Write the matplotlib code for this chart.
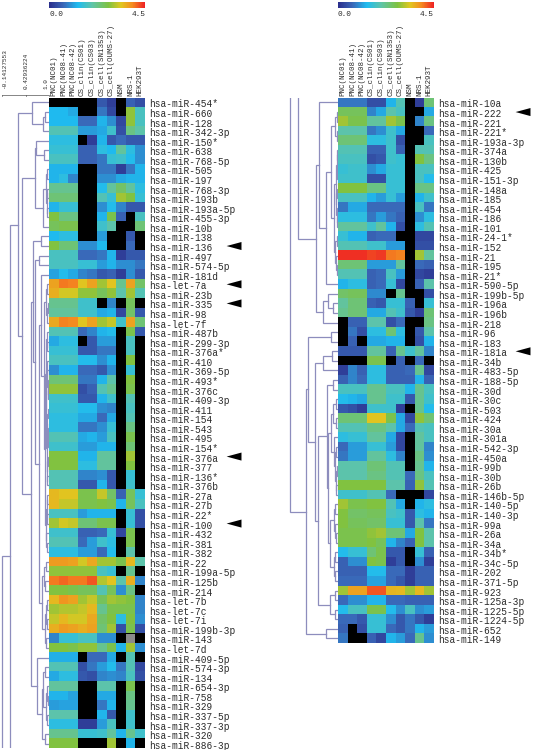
import numpy as np
import matplotlib
matplotlib.use('Agg')
import matplotlib.pyplot as plt
from matplotlib.colors import LinearSegmentedColormap
from matplotlib.cm import ScalarMappable
from matplotlib.colors import Normalize
from matplotlib.patches import Polygon, Rectangle
from matplotlib.transforms import ScaledTranslation

W, H = 536, 750
n = np.nan

columns = ['PNC(NC01)', 'PNC(NC08-41)', 'PNC(NC08-42)', 'CS_clin(CS01)', 'CS_clin(CS03)',
           'CS_cell(SN1353)', 'CS_cell(OUMS-27)', 'NSM', 'NRS-1', 'HEK293T']

left_names = ['454*', '660', '128', '342-3p', '150*', '638', '768-5p', '505', '197', '768-3p',
              '193b', '193a-5p', '455-3p', '10b', '138', '136', '497', '574-5p', '181d', 'let-7a',
              '23b', '335', '98', 'let-7f', '487b', '299-3p', '376a*', '410', '369-5p', '493*',
              '376c', '409-3p', '411', '154', '543', '495', '154*', '376a', '377', '136*',
              '376b', '27a', '27b', '22*', '100', '432', '381', '382', '22', '199a-5p',
              '125b', '214', 'let-7b', 'let-7c', 'let-7i', '199b-3p', '143', 'let-7d', '409-5p', '574-3p',
              '134', '654-3p', '758', '329', '337-5p', '337-3p', '320', '886-3p']

right_names = ['10a', '222', '221', '221*', '193a-3p', '374a', '130b', '425', '151-3p', '148a',
               '185', '454', '186', '101', '24-1*', '152', '21', '195', '21*', '590-5p',
               '199b-5p', '196a', '196b', '218', '96', '183', '181a', '34b', '483-5p', '188-5p',
               '30d', '30c', '503', '424', '30a', '301a', '542-3p', '450a', '99b', '30b',
               '26b', '146b-5p', '140-5p', '140-3p', '99a', '26a', '34a', '34b*', '34c-5p', '202',
               '371-5p', '923', '125a-3p', '1225-5p', '1224-5p', '652', '149']

left_values = [
    [n, n, n, n, n, .5, .2, n, .6, .4],
    [1.35, 1.35, 1.2, n, n, .8, .3, n, 2.9, 1.8],
    [1.35, 1.35, 1.35, .7, .7, 1.3, 1.0, .3, 2.9, 1.8],
    [1.9, 1.9, 1.9, 1.1, 1.1, 1.2, 1.7, .4, 2.3, 2.0],
    [1.5, 1.5, 1.5, n, .2, 1.3, .5, .7, .5, .5],
    [1.6, 1.6, 1.6, .6, .6, 1.5, 1.35, 2.1, 1.5, 1.0],
    [1.8, 1.8, 1.8, .6, .6, .8, 1.6, 1.7, 1.4, 1.0],
    [1.3, 1.3, 1.3, n, n, .8, .8, .2, .8, 1.3],
    [1.3, 1.5, .9, n, n, 1.0, 1.0, 1.2, 1.3, 1.3],
    [2.2, 2.2, 2.2, n, n, 1.4, 2.1, 2.5, 2.1, 1.5],
    [2.4, 2.4, 2.4, n, n, 1.9, 1.6, 3.0, 2.8, 1.6],
    [1.3, 1.6, 1.6, n, n, 1.0, 1.4, .9, .5, .5],
    [2.8, 2.3, 2.3, n, n, 1.3, 2.7, .6, n, 1.8],
    [2.6, 2.7, 2.7, n, n, 1.7, 2.0, n, n, 2.4],
    [1.35, 1.5, 1.5, n, n, 1.1, n, n, .5, n],
    [2.8, 2.4, 2.4, 1.0, 1.0, 1.35, n, n, .7, n],
    [1.8, 1.8, 1.8, .7, .7, .8, 1.3, .2, .5, .5],
    [1.8, 1.8, 1.8, 1.6, 1.6, 1.1, 1.3, 1.0, 1.0, .8],
    [1.15, 1.4, 1.2, .9, .8, .5, .6, .2, 1.0, .5],
    [3.7, 4.0, 3.95, 3.4, 3.7, 3.0, 3.4, 2.2, 3.7, 2.5],
    [3.6, 3.3, 3.3, 2.9, 2.9, 2.6, 2.9, 2.0, 3.0, 1.9],
    [2.2, 2.2, 2.2, 1.7, 1.7, n, .9, n, 2.6, n],
    [2.1, 2.1, 2.1, 1.7, 1.7, 1.2, 1.3, .3, 2.5, .5],
    [3.65, 3.95, 3.9, 3.4, 3.7, 3.0, 3.2, 1.7, 3.7, 2.4],
    [1.9, 1.9, 1.9, .7, .9, 1.3, 1.4, n, 2.7, .5],
    [1.2, 1.5, 1.5, n, .5, 1.1, 1.1, n, 1.8, n],
    [1.6, 1.6, 1.6, .5, .5, .8, .8, n, 1.8, n],
    [1.8, 1.8, 1.8, 1.4, 1.4, 1.0, 1.3, n, 2.8, n],
    [1.0, 1.3, 1.3, .7, .7, .5, 1.0, n, 1.6, n],
    [2.4, 2.4, 2.4, .8, .8, 1.3, 2.0, n, 2.8, n],
    [2.9, 2.9, 2.9, .4, .6, 1.9, 2.2, n, 2.7, n],
    [1.7, 1.7, 1.7, .5, .5, 1.3, 1.7, n, 1.9, n],
    [1.6, 1.6, 1.6, 1.4, 1.4, 1.0, .9, n, 1.8, n],
    [1.5, 1.5, 1.5, 1.2, 1.2, .7, 1.2, n, 1.9, n],
    [1.5, 1.5, 1.5, .8, .8, 1.0, 1.6, n, 2.3, n],
    [1.9, 1.9, 1.9, 1.2, 1.3, 1.1, 1.8, n, 2.7, n],
    [1.7, 1.7, 1.7, 1.1, 1.1, 1.3, 1.3, n, 2.4, n],
    [2.8, 2.8, 2.8, 1.3, 1.3, 2.1, 2.1, n, 3.0, n],
    [2.8, 2.8, 2.8, 1.5, 1.5, 2.1, 2.1, n, 2.8, n],
    [1.9, 1.9, 1.9, .9, .9, 1.0, .5, n, 1.6, n],
    [1.9, 1.9, 1.9, .5, .5, 1.3, .5, n, 1.7, n],
    [3.5, 3.4, 3.4, 2.7, 2.7, 3.2, 2.5, .6, 2.6, 1.6],
    [3.5, 3.2, 3.2, 2.7, 2.7, 2.8, 2.7, 1.3, 2.6, 1.8],
    [1.8, 1.8, 1.8, 1.1, 1.3, 1.3, 1.3, n, 1.6, .4],
    [3.0, 3.3, 3.2, 2.4, 2.4, 2.7, 2.7, n, 1.6, .4],
    [1.7, 1.7, 1.7, .6, .6, .7, 1.6, .3, 2.7, n],
    [1.9, 1.9, 1.9, .7, 1.1, 1.7, 1.5, n, 2.7, n],
    [1.5, 1.5, 1.5, 1.1, 1.1, .7, 1.4, n, 2.0, n],
    [3.75, 3.75, 3.7, 3.3, 3.65, 3.0, 3.0, 2.7, 3.5, 2.0],
    [2.9, 2.9, 2.9, 2.9, 2.9, 1.8, 1.6, n, 2.2, n],
    [4.0, 4.1, 4.0, 4.0, 4.2, 3.1, 3.4, 2.0, 3.6, .9],
    [2.8, 2.8, 2.7, 2.6, 2.6, 1.9, 2.6, 1.0, 2.3, n],
    [3.5, 3.8, 3.7, 3.0, 3.2, 2.6, 3.0, 2.9, 2.8, .9],
    [3.0, 3.1, 3.1, 3.2, 3.5, 2.2, 2.7, 2.7, 2.7, .9],
    [3.2, 3.5, 3.3, 3.3, 3.65, 2.5, 2.8, 1.5, 2.8, 1.0],
    [3.6, 3.75, 3.7, 3.6, 3.7, 2.4, 3.0, .4, 2.7, .4],
    [.9, 1.6, 1.6, 1.8, 1.8, 1.0, 1.0, n, n, n],
    [2.8, 2.8, 2.7, 2.9, 2.9, 2.2, 2.7, 1.3, 3.0, 1.0],
    [1.25, 1.25, 1.25, n, .7, .7, 1.2, n, 1.9, n],
    [1.9, 1.9, 1.9, .4, .8, 1.1, 1.4, .8, 1.9, .3],
    [1.2, 1.5, 1.5, .5, .4, .9, 1.0, .9, 1.8, .4],
    [2.1, 2.1, 2.1, n, n, 2.0, 2.0, n, 2.7, n],
    [1.3, 1.3, 1.15, n, n, 1.2, 1.2, n, 2.3, n],
    [1.1, 1.15, 1.15, n, n, .8, 1.3, n, 2.2, n],
    [2.0, 2.0, 2.0, n, n, 1.3, .5, n, 1.7, n],
    [1.5, 1.5, 1.5, .2, .2, 1.1, 1.8, n, 1.7, n],
    [2.2, 2.2, 2.2, 1.6, 1.6, 1.7, 2.1, 1.3, 2.2, 1.7],
    [2.8, 2.8, 2.8, n, n, n, 3.0, n, 1.3, n],
]

right_values = [
    [.8, .8, .8, .4, .4, 1.3, 1.9, n, .2, 2.4],
    [2.6, 2.6, 2.6, .9, 1.2, 2.0, 1.8, n, n, 1.2],
    [3.0, 2.7, 2.7, 2.1, 2.1, 3.0, 2.7, n, .9, 2.3],
    [2.0, 2.0, 2.0, .8, 1.0, 1.7, 1.2, n, n, .7],
    [2.4, 2.4, 2.4, 1.5, 1.5, 1.7, .4, n, n, 1.8],
    [1.9, 1.9, 1.9, .6, .6, 1.7, .6, n, 1.9, 1.9],
    [1.8, 1.8, 1.8, .4, .5, 1.7, 1.6, n, 2.8, 2.3],
    [1.6, 1.7, 1.7, 1.0, 1.2, 1.6, 1.6, n, 1.8, 1.8],
    [1.7, 1.7, 1.7, .4, .4, 1.6, 1.6, n, 1.8, 1.4],
    [2.8, 2.8, 2.8, 2.3, 2.3, 1.6, 1.6, n, 2.3, 2.3],
    [1.8, 1.8, 1.8, 1.3, 1.1, 1.6, 1.1, n, 1.3, 1.7],
    [.8, 1.2, 1.2, .7, .7, .7, .7, n, 1.8, .8],
    [1.5, 1.5, 1.5, .8, 1.1, .8, .6, n, 1.0, 1.5],
    [2.1, 2.1, 2.1, 1.7, 2.1, 1.3, .4, n, 1.5, 1.9],
    [1.6, 1.3, 1.3, .6, .7, .7, n, n, .3, .3],
    [1.9, 1.9, 1.9, 1.7, 1.7, 1.1, 1.1, n, .4, .4],
    [4.4, 4.4, 4.4, 4.3, 4.35, 4.0, 3.95, n, 3.0, 2.1],
    [2.4, 2.4, 2.4, 1.1, 1.1, 1.1, 2.1, n, .7, .6],
    [1.9, 1.9, 1.9, .6, .7, 1.8, 1.1, n, .3, .2],
    [1.3, 1.5, 1.5, .6, .7, 1.6, .3, n, .6, 2.0],
    [2.5, 2.6, 2.6, .95, .95, n, 2.2, n, n, .4],
    [2.1, 2.4, 2.4, .6, .5, 1.6, 1.6, .6, n, 1.6],
    [2.2, 2.4, 2.4, 1.2, 1.2, 1.9, 1.7, .5, .2, 2.4],
    [n, .6, .6, 2.0, 2.0, .4, .7, n, n, 2.3],
    [n, .8, .4, 1.5, 1.5, 2.4, 1.5, n, .5, 2.0],
    [n, .6, n, 1.2, 1.2, 1.3, 1.3, n, .4, 1.3],
    [.5, .5, .5, 2.1, 2.1, .6, 2.2, 1.7, 2.1, .9],
    [n, n, n, 2.7, 2.7, n, .6, n, .7, n],
    [.2, .9, .6, 1.5, 1.5, .6, .6, .7, 2.2, .3],
    [.6, .9, .7, 1.5, 1.5, .6, .6, .6, 1.3, .6],
    [1.8, 1.8, 1.8, 2.2, 2.2, 1.8, 1.8, 1.3, 2.2, 1.8],
    [1.4, 1.3, 1.2, 2.2, 2.2, 1.7, 1.7, .5, 2.2, 1.7],
    [.5, .4, .2, 1.7, 1.7, 1.7, .2, n, 2.2, 1.4],
    [2.4, 2.4, 2.4, 3.4, 3.4, 2.7, 1.2, .3, 2.9, 2.4],
    [1.9, 1.9, 1.9, 2.3, 2.3, 2.0, 1.2, .7, 1.9, 1.8],
    [1.5, 1.6, 1.6, 2.1, 2.1, 1.2, .3, n, 2.1, 1.8],
    [.7, 1.1, 1.1, 1.6, 1.6, 1.1, .3, n, 2.1, .9],
    [.8, 1.1, 1.1, 2.1, 2.1, 1.5, .9, n, 2.3, 1.0],
    [2.0, 2.0, 2.0, 2.4, 2.4, 1.9, 1.9, n, 2.2, 1.3],
    [2.0, 2.0, 2.0, 2.3, 2.3, 1.9, 1.9, .7, 2.3, 1.8],
    [2.8, 2.8, 2.8, 2.8, 2.8, 2.0, 2.0, .6, 2.9, 1.9],
    [1.7, 1.7, 1.7, 1.9, 1.9, .7, n, n, n, .3],
    [3.0, 2.7, 2.7, 2.8, 2.8, 1.9, 1.2, n, 1.3, 1.5],
    [2.8, 2.5, 2.5, 2.6, 2.6, 1.8, 1.7, .5, 1.5, 1.3],
    [2.8, 2.6, 2.6, 2.5, 2.5, 1.6, 1.6, .5, 2.0, .8],
    [2.7, 2.7, 2.7, 2.9, 3.0, 2.4, 2.4, 1.2, 2.8, 2.0],
    [2.7, 2.7, 2.7, 2.8, 2.6, 1.3, .9, .6, 2.8, 2.0],
    [1.4, 1.6, 1.6, 2.4, 2.7, .5, .5, n, 1.6, .6],
    [.6, 1.0, 1.0, 2.8, 2.7, .2, .5, n, 1.0, .2],
    [.6, .6, .6, 1.4, 1.4, .7, .7, .2, .6, .6],
    [.7, .7, .7, 1.15, 1.15, .7, .5, .2, .6, .6],
    [3.0, 3.7, 3.7, 4.2, 4.2, 3.55, 3.5, 3.0, 3.5, 3.0],
    [.7, 1.0, 1.0, 1.3, 1.3, .7, .7, .6, .6, .6],
    [1.4, 1.8, 1.8, 2.7, 2.7, 1.4, 1.0, 1.8, 1.0, 1.1],
    [.7, .7, .5, 1.6, 1.6, 1.0, .5, .8, .5, .2],
    [.6, n, .4, 1.6, 1.6, .7, .5, .8, 1.3, 1.1],
    [.8, n, n, .6, .3, 1.3, 1.1, .7, 2.2, 1.0],
]

left_arrows = ['136', 'let-7a', '335', '376a', '100']
right_arrows = ['222', '181a']
gray_cell = ('143', 'NRS-1')
scale_ticks = [-0.14127553, 0.42936224, 1.0]

# trees: (similarity, child, child), a child is a row index
rows7_12 = (0.93, (0.95, 7, 8), (0.94, (0.96, 9, 10), (0.96, 11, 12)))
rows19_23 = (0.93, (0.96, 19, 20), (0.94, (0.97, 21, 22), 23))
rows24_40 = (0.92, (0.94, 24, (0.95, 25, 26)),
             (0.93, (0.95, 27, (0.96, 28, (0.97, 29, (0.97, 30, 31)))),
              (0.94, (0.96, (0.97, 32, 33), (0.97, 34, (0.97, 35, 36))),
               (0.95, (0.97, 37, 38), (0.96, 39, 40)))))
rows41_47 = (0.93, (0.94, (0.96, 41, 42), (0.96, 43, 44)), (0.93, 45, (0.96, 46, 47)))
rows48_57 = (0.83, (0.87, (0.92, 48, 49), (0.90, 50, 51)),
             (0.90, (0.93, (0.95, 52, 53), (0.95, 54, 55)), (0.92, 56, 57)))
rows58_67 = (0.70, 58, (0.82, (0.86, (0.90, 59, 60),
                               (0.93, (0.95, 61, (0.97, 62, 63)), (0.96, 64, 65))), (0.90, 66, 67)))
rows18_57 = (0.767, (0.80, 18, (0.88, rows19_23, (0.90, rows24_40, rows41_47))), rows48_57)
rows4_13 = (0.645, (0.68, 4, (0.88, 5, 6)), (0.85, rows7_12, 13))
rows14_67 = (0.57, (0.62, (0.80, 14, 15), (0.645, (0.755, 16, 17), rows18_57)), rows58_67)
left_trees = [(-0.141, (0.045, (0.24, (0.58, 0, (0.85, (0.90, 1, 2), 3)),
                                (0.33, rows4_13, rows14_67)), 82), 100)]

r5_13 = (0.951, (0.975, (0.985, 5, 6), (0.975, 7, 8)),
         (0.96, (0.975, 9, 10), (0.975, 11, (0.985, 12, 13))))
r14_18 = (0.926, (0.975, 14, 15), (0.951, 16, (0.975, 17, 18)))
r0_19 = (0.535, 0, (0.706, (0.83, (0.926, (0.975, 1, 2), (0.975, 3, 4)),
                            (0.90, r5_13, r14_18)), 19))
r20_23 = (0.632, (0.755, 20, (0.877, 21, 22)), 23)
r31_41 = (0.83, (0.877, (0.951, 31, 32), (0.951, 33, 34)),
          (0.90, 35, (0.926, (0.951, 36, 37), (0.951, (0.975, 38, 39), (0.951, 40, 41)))))
r42_50 = (0.804, (0.90, (0.926, 42, 43), (0.926, 44, (0.951, 45, 46))),
          (0.90, (0.926, 47, 48), (0.926, 49, 50)))
r29_50 = (0.73, (0.877, 29, 30), (0.755, r31_41, r42_50))
r26_54 = (0.437, (0.632, (0.853, 26, 27), 28),
          (0.522, r29_50, (0.804, (0.926, 51, 52), (0.926, 53, 54))))
right_trees = [(0.02, -12, (0.461, r0_19, r20_23)),
               (-0.176, -12, (0.216, (0.265, (0.83, 24, 25), r26_54), (0.706, 55, 56)))]

cmap = LinearSegmentedColormap.from_list('expr', [
    (0.0, '#2b2e8c'), (0.15, '#3a68b8'), (0.3, '#1fbcf0'), (0.45, '#5fc4a8'),
    (0.62, '#7fc241'), (0.75, '#e0c820'), (0.87, '#f58a20'), (1.0, '#ee2024')])
cmap.set_bad('black')
norm = Normalize(0, 4.5)

TOP = 97.7
ROW = 9.57
COL = 9.6
LINE = '#8d8dbd'
TEXT = '#2a2a2a'
MONO = 'Liberation Mono'


def px_axes(fig, x0, y0, x1, y1):
    return fig.add_axes([x0 / W, 1 - y1 / H, (x1 - x0) / W, (y1 - y0) / H])


def draw_tree(ax, node):
    if not isinstance(node, tuple):
        return node
    s, a, b = node
    ya = draw_tree(ax, a)
    yb = draw_tree(ax, b)
    xa = a[0] if isinstance(a, tuple) else 1.0
    xb = b[0] if isinstance(b, tuple) else 1.0
    ax.plot([xa, s, s, xb], [ya, ya, yb, yb], color=LINE, lw=0.9, solid_joinstyle='miter')
    return (ya + yb) / 2


def panel(fig, x0, names, values, trees, arrows):
    data = np.array(values, dtype=float)
    labels = ['hsa-' + m if m.startswith('let') else 'hsa-miR-' + m for m in names]
    y1 = TOP + ROW * len(names)

    ax = px_axes(fig, x0, TOP, x0 + 10 * COL, y1)
    ax.imshow(data, cmap=cmap, norm=norm, aspect='auto', interpolation='nearest')
    ax.xaxis.tick_top()
    ax.set_xticks(range(len(columns)))
    ax.set_xticklabels(columns, rotation=90, family=MONO, fontsize=5.4, color=TEXT)
    ax.yaxis.tick_right()
    ax.set_yticks(range(len(labels)))
    ax.set_yticklabels(labels, family=MONO, fontsize=6.85, color=TEXT, va='center_baseline')
    ax.tick_params(length=0, pad=3.2)
    ax.tick_params(axis='x', pad=1.5)
    down = ScaledTranslation(0, -1 / 100, fig.dpi_scale_trans)
    for l in ax.get_yticklabels():
        l.set_transform(l.get_transform() + down)
    for s in ax.spines.values():
        s.set_visible(False)

    for m in arrows:
        r = names.index(m)
        ax.add_patch(Polygon([(18.0, r), (19.55, r - 0.42), (19.55, r + 0.42)], closed=True,
                             color='black', lw=0, clip_on=False))

    dn = px_axes(fig, x0 - 49, TOP, x0, y1)
    for t in trees:
        draw_tree(dn, t)
    dn.set_xlim(-0.2, 1.0)
    dn.set_ylim(len(names) - 0.5, -0.5)
    dn.axis('off')

    cax = px_axes(fig, x0, 1.5, x0 + 10 * COL, 8)
    cb = fig.colorbar(ScalarMappable(norm=norm, cmap=cmap), cax=cax, orientation='horizontal')
    cb.outline.set_visible(False)
    cb.set_ticks([0, 4.5])
    cb.set_ticklabels(['0.0', '4.5'], family=MONO, fontsize=5.6, color=TEXT)
    cax.tick_params(length=0, pad=2)
    tl = cax.get_xticklabels()
    tl[0].set_ha('left')
    tl[1].set_ha('right')
    return ax


fig = plt.figure(figsize=(W / 100, H / 100), dpi=100, facecolor='white')

lax = panel(fig, 49, left_names, left_values, left_trees, left_arrows)
panel(fig, 338, right_names, right_values, right_trees, right_arrows)

r, c = left_names.index(gray_cell[0]), columns.index(gray_cell[1])
lax.add_patch(Rectangle((c - 0.5, r - 0.5), 1, 1, color='#8a8a8a', lw=0))

# similarity scale above the left tree
sc = px_axes(fig, 0, 88, 49, 96)
sc.set_xlim(-0.2, 1.0)
sc.set_ylim(0, 1)
sc.axis('off')
sc.plot([scale_ticks[0], scale_ticks[-1]], [0.12, 0.12], color='#555555', lw=0.5)
for t, ha in zip(scale_ticks, ['left', 'center', 'right']):
    sc.plot([t, t], [0.12, 0.0], color='#555555', lw=0.5, clip_on=False)
    sc.text(t, 0.85, str(t), rotation=90, ha=ha, va='bottom',
            family=MONO, fontsize=4.3, color=TEXT, clip_on=False)

fig.savefig('out.png', dpi=100)
